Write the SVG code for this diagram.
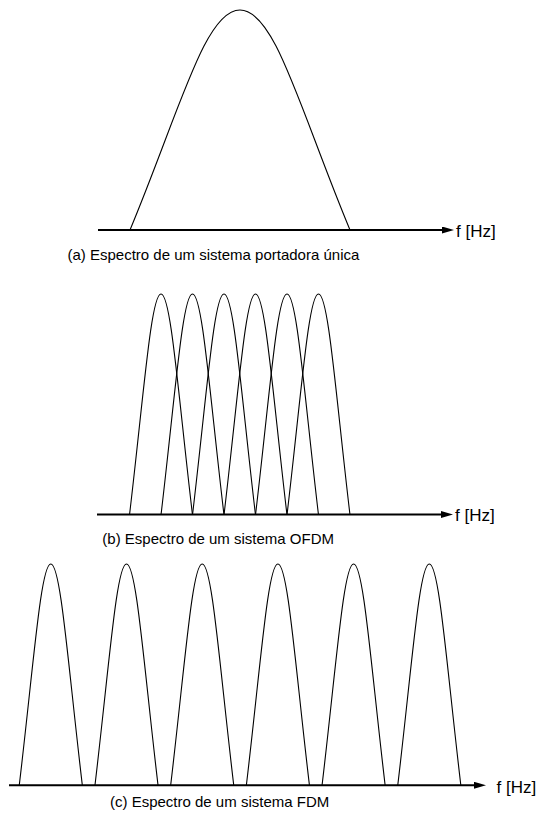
<svg xmlns="http://www.w3.org/2000/svg" xmlns:xlink="http://www.w3.org/1999/xlink" width="538" height="817" viewBox="0 0 538 817">
<style>
.curve{fill:none;stroke:#000;stroke-width:1.1;stroke-linejoin:round}
.axis{fill:none;stroke:#000;stroke-width:2}
.lbl{font-family:"Liberation Sans",Arial,sans-serif;font-size:15px;fill:#000}
.unit{font-family:"Liberation Sans",Arial,sans-serif;font-size:17px;fill:#000}
</style>
<defs>
<marker id="ah" markerUnits="userSpaceOnUse" markerWidth="12" markerHeight="8" refX="0" refY="3.5" orient="auto">
<path d="M0,0 L12,3.5 L0,7 Z" fill="#000"/>
</marker>
<path id="lobe" class="curve" d="M0,0 C14.3,-120.5 21.5,-221 31.5,-221 C41.5,-221 48.7,-120.5 63,0"/>
</defs>
<rect width="538" height="817" fill="#fff"/>
<g id="connectors">
<line class="axis" x1="98" y1="230" x2="442" y2="230" marker-end="url(#ah)"/>
<line class="axis" x1="97" y1="514.5" x2="441" y2="514.5" marker-end="url(#ah)"/>
<line class="axis" x1="9" y1="785.3" x2="474" y2="785.3" marker-end="url(#ah)"/>
</g>
<g id="panel-a">
<path class="curve" d="M130,230 C180,110 205,10 240,10 C275,10 300,110 350,230"/>
<text class="unit" x="456" y="236.5">f [Hz]</text>
<text class="lbl" x="67.5" y="260">(a) Espectro de um sistema portadora única</text>
</g>
<g id="panel-b">
<use xlink:href="#lobe" x="129.5" y="515"/>
<use xlink:href="#lobe" x="161" y="515"/>
<use xlink:href="#lobe" x="192.5" y="515"/>
<use xlink:href="#lobe" x="224" y="515"/>
<use xlink:href="#lobe" x="255.5" y="515"/>
<use xlink:href="#lobe" x="287" y="515"/>
<text class="unit" x="455" y="520.7">f [Hz]</text>
<text class="lbl" x="102.3" y="543.5">(b) Espectro de um sistema OFDM</text>
</g>
<g id="panel-c">
<use xlink:href="#lobe" x="19.3" y="785"/>
<use xlink:href="#lobe" x="95" y="785"/>
<use xlink:href="#lobe" x="170.7" y="785"/>
<use xlink:href="#lobe" x="246.4" y="785"/>
<use xlink:href="#lobe" x="322.1" y="785"/>
<use xlink:href="#lobe" x="397.8" y="785"/>
<text class="unit" x="496.5" y="792.7">f [Hz]</text>
<text class="lbl" x="110" y="807">(c) Espectro de um sistema FDM</text>
</g>
</svg>
